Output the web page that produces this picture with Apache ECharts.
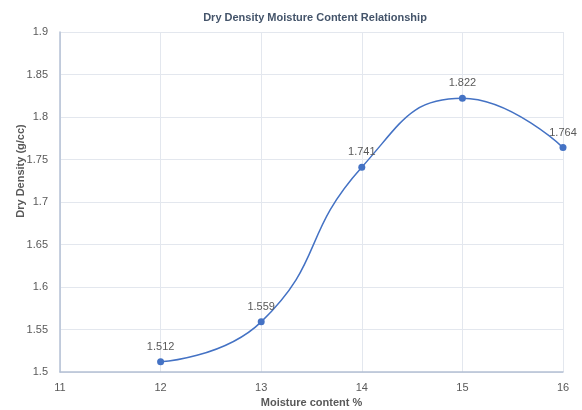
<!DOCTYPE html>
<html>
<head>
<meta charset="utf-8">
<script src="https://cdn.jsdelivr.net/npm/echarts@6/dist/echarts.min.js"></script>
<style>
  html, body { margin: 0; padding: 0; background: #fff; }
  #chart { width: 582px; height: 410px; }
</style>
</head>
<body>
<div id="chart"></div>
<script>
// Compaction test results
const moistureContent = [12, 13, 14, 15, 16];
const dryDensity = [1.512, 1.559, 1.741, 1.822, 1.764];

const chartTitle = 'Dry Density Moisture Content Relationship';
const xAxisName = 'Moisture content %';
const yAxisName = 'Dry Density (g/cc)';

const font = '"Liberation Sans", "DejaVu Sans", sans-serif';
const gridColor = '#e3e7ee';
const textColor = '#595959';

const chart = echarts.init(document.getElementById('chart'), null, { renderer: 'canvas' });

chart.setOption({
  animation: false,
  backgroundColor: '#ffffff',
  title: {
    text: chartTitle,
    left: 310,
    textAlign: 'center',
    top: 7,
    textStyle: { fontFamily: font, fontSize: 11, fontWeight: 'bold', color: '#44546a' }
  },
  grid: { left: 60, right: 19, top: 32, bottom: 38, outerBoundsMode: 'none', containLabel: false },
  xAxis: {
    type: 'value',
    min: 11,
    max: 16,
    interval: 1,
    name: xAxisName,
    nameLocation: 'middle',
    nameGap: 25,
    nameMoveOverlap: false,
    nameTextStyle: { fontFamily: font, fontSize: 11, fontWeight: 'bold', color: textColor },
    axisLine: { show: true, lineStyle: { color: '#b4c0d4', width: 1.5 } },
    axisTick: { show: false },
    axisLabel: { fontFamily: font, fontSize: 11, color: textColor, margin: 10 },
    splitLine: { show: true, lineStyle: { color: gridColor, width: 1 } }
  },
  yAxis: {
    type: 'value',
    min: 1.5,
    max: 1.9,
    interval: 0.05,
    name: yAxisName,
    nameLocation: 'middle',
    nameGap: 34,
    nameMoveOverlap: false,
    // the title sits a little above the plot's vertical centre
    nameTextStyle: { fontFamily: font, fontSize: 11, fontWeight: 'bold', color: textColor, padding: [0, 0, 0, 62] },
    axisLine: { show: true, lineStyle: { color: '#b4c0d4', width: 1.5 } },
    axisTick: { show: false },
    axisLabel: { fontFamily: font, fontSize: 11, color: textColor, margin: 12 },
    splitLine: { show: true, lineStyle: { color: gridColor, width: 1 } }
  },
  series: [{
    type: 'line',
    data: moistureContent.map((x, i) => [x, dryDensity[i]]),
    smooth: 0.5,
    symbol: 'circle',
    symbolSize: 7,
    lineStyle: { color: '#4472c4', width: 1.5 },
    itemStyle: { color: '#4472c4' },
    label: {
      show: true,
      position: 'top',
      distance: 6,
      fontFamily: font,
      fontSize: 11,
      color: textColor,
      formatter: p => p.value[1].toFixed(3)
    }
  }]
});
</script>
</body>
</html>
